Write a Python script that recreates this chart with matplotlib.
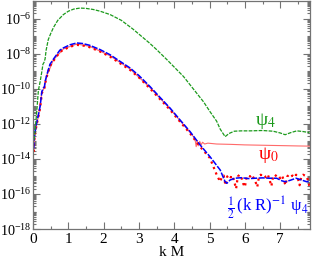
import matplotlib
matplotlib.use("Agg")
import matplotlib.pyplot as plt
import numpy as np
from matplotlib.ticker import LogLocator, FixedLocator, MultipleLocator, NullFormatter

plt.rcParams['font.family'] = 'serif'
plt.rcParams['font.serif'] = ['Liberation Serif', 'DejaVu Serif']
plt.rcParams['mathtext.fontset'] = 'stix'

# psi_4 (green), log10 of amplitude
kM_g = [0.03, 0.06, 0.10, 0.15, 0.20, 0.25, 0.28, 0.31, 0.34, 0.37, 0.43, 0.50, 0.58, 0.70, 0.86,
        1.00, 1.15, 1.33, 1.50, 1.70, 1.90, 2.18, 2.50, 2.83, 3.30, 3.50, 3.79, 4.26, 4.83, 5.01,
        5.20, 5.30, 5.44, 5.55, 5.70, 5.90, 6.15, 6.50, 6.80, 7.00, 7.14, 7.30, 7.47, 7.65, 7.83]
lg_g = [-12.9, -12.3, -11.4, -10.1, -9.6, -9.0, -8.6, -8.5, -8.3, -7.8, -7.2, -6.85, -6.5, -6.1, -5.77,
        -5.58, -5.46, -5.40, -5.42, -5.48, -5.58, -5.77, -6.1, -6.6, -7.4, -7.77, -8.34, -9.3, -10.75, -11.3,
        -11.85, -12.3, -12.73, -12.55, -12.42, -12.4, -12.4, -12.38, -12.42, -12.52, -12.62, -12.5, -12.4, -12.44, -12.5]

# 1/2 (kR)^-1 psi_4 (blue)
kM_b = [0.02, 0.03, 0.06, 0.10, 0.15, 0.20, 0.25, 0.29, 0.32, 0.34, 0.39, 0.48, 0.58, 0.76, 0.86,
        1.05, 1.24, 1.40, 1.60, 1.90, 2.18, 2.45, 2.75, 3.00, 3.31, 3.60, 3.88, 4.16, 4.45, 4.73,
        5.01, 5.30, 5.44, 5.49, 5.58, 5.72, 5.90, 6.10, 6.30, 6.50, 6.70, 6.90, 7.05, 7.15, 7.28,
        7.45, 7.60, 7.75, 7.83]
lg_b = [-13.4, -12.9, -12.4, -11.96, -11.5, -11.0, -10.15, -9.96, -9.9, -9.6, -9.2, -8.6, -8.3, -7.8, -7.67,
        -7.49, -7.39, -7.42, -7.52, -7.77, -8.06, -8.42, -8.82, -9.25, -9.87, -10.5, -11.1, -11.77, -12.45, -13.2,
        -13.87, -14.63, -15.3, -15.39, -15.2, -15.1, -15.07, -15.12, -15.1, -15.08, -15.1, -15.1, -15.25, -15.3, -15.22,
        -15.1, -15.2, -15.3, -15.28]

# red dotted
kM_r = [0.02, 0.03, 0.06, 0.10, 0.15, 0.20, 0.25, 0.29, 0.32, 0.34, 0.39, 0.48, 0.58, 0.76, 0.86,
        1.05, 1.24, 1.40, 1.60, 1.90, 2.18, 2.45, 2.75, 3.00, 3.31, 3.60, 3.88, 4.16, 4.45, 4.73,
        5.01, 5.20, 5.30, 5.35, 5.40, 5.45, 5.50, 5.55, 5.60, 5.65, 5.70, 5.75, 5.80, 5.85, 5.90,
        5.95, 6.00, 6.05, 6.10, 6.15, 6.20, 6.25, 6.30, 6.35, 6.40, 6.45, 6.50, 6.55, 6.60, 6.65,
        6.70, 6.75, 6.80, 6.85, 6.90, 6.95, 7.00, 7.05, 7.10, 7.15, 7.20, 7.25, 7.30, 7.35, 7.40,
        7.45, 7.50, 7.55, 7.60, 7.65, 7.70, 7.75, 7.80, 7.83]
lg_r = [-13.6, -13.0, -12.5, -12.05, -11.6, -11.1, -10.25, -10.05, -10.0, -9.7, -9.3, -8.7, -8.4, -7.9, -7.78,
        -7.6, -7.5, -7.53, -7.63, -7.88, -8.17, -8.53, -8.93, -9.36, -9.98, -10.6, -11.2, -11.87, -12.55, -13.3,
        -13.95, -14.9, -15.3, -15.0, -14.95, -15.5, -15.0, -14.9, -15.05, -14.95, -15.3, -15.7, -15.0, -14.9, -15.05,
        -15.4, -15.6, -15.0, -14.95, -15.0, -14.9, -15.1, -15.3, -15.6, -15.0, -14.9, -15.0, -14.95, -15.05, -14.9,
        -15.2, -15.55, -15.0, -14.9, -15.0, -14.95, -15.1, -14.95, -15.2, -15.5, -15.0, -14.9, -15.0, -14.95, -15.05,
        -14.9, -15.1, -15.5, -15.0, -14.9, -14.95, -15.0, -15.3, -15.6]

# psi_0 (light red solid)
kM_0 = [0.02, 0.06, 0.15, 0.25, 0.32, 0.39, 0.58, 0.86, 1.24, 1.60, 2.18, 2.75, 3.31, 3.88, 4.45,
        4.55, 4.59, 4.62, 4.65, 4.68, 4.72, 4.76, 4.80, 4.86, 4.95, 5.20, 5.60, 6.00, 6.50, 7.00,
        7.50, 7.83]
lg_0 = [-13.5, -12.45, -11.55, -10.2, -9.95, -9.25, -8.35, -7.73, -7.45, -7.58, -8.12, -8.88, -9.93, -11.15, -12.5,
        -12.75, -12.91, -13.3, -12.95, -13.25, -13.0, -13.2, -13.05, -13.15, -13.1, -13.15, -13.17, -13.2, -13.22, -13.24,
        -13.26, -13.27]

fig = plt.figure(figsize=(3.12, 2.58), dpi=100)
ax = fig.add_axes([0.106, 0.112, 0.886, 0.884])

ax.plot(kM_0, 10.0**np.array(lg_0), color='#ff6a6a', lw=0.8)
ax.plot(kM_r, 10.0**np.array(lg_r), color='red', lw=1.6, ls=':')
ax.plot(kM_b, 10.0**np.array(lg_b), color='blue', lw=1.1, ls=(0, (4, 1)))
ax.plot(kM_g, 10.0**np.array(lg_g), color='#1c9a1c', lw=0.9, ls=(0, (3, 1)))

ax.set_yscale('log')
ax.set_xlim(0, 7.83)
ax.set_ylim(1e-18, 1e-5)

ax.yaxis.set_major_locator(FixedLocator([10.0**e for e in range(-18, -5, 2)]))
ax.yaxis.set_minor_locator(LogLocator(base=10.0, subs=np.arange(1, 10) * 1.0, numticks=200))
ax.yaxis.set_minor_formatter(NullFormatter())
ax.xaxis.set_major_locator(MultipleLocator(1))
ax.xaxis.set_minor_locator(MultipleLocator(0.5))

ax.tick_params(which='both', direction='in', top=True, right=True, color='0.45', width=0.8,
               labelsize=11)
ax.tick_params(axis='y', pad=1, labelsize=10.3)
ax.tick_params(axis='x', pad=3)
ax.tick_params(which='major', length=5)
ax.tick_params(which='minor', length=2.5)
for s in ax.spines.values():
    s.set_color('0.45')
    s.set_linewidth(0.9)

ax.set_xlabel('k M', fontsize=11, labelpad=0)

ax.text(6.58, 10**-11.85, 'ψ$_4$', color='#1c9a1c', fontsize=14, ha='center', va='center')
ax.text(6.66, 10**-13.75, 'ψ$_0$', color='red', fontsize=14, ha='center', va='center')
ax.text(6.66, 10**-16.75, r'$\frac{1}{2}\,$(k R)$^{-1}$ ψ$_4$', color='blue', fontsize=12,
        ha='center', va='center')

plt.savefig('out.png', dpi=100)
